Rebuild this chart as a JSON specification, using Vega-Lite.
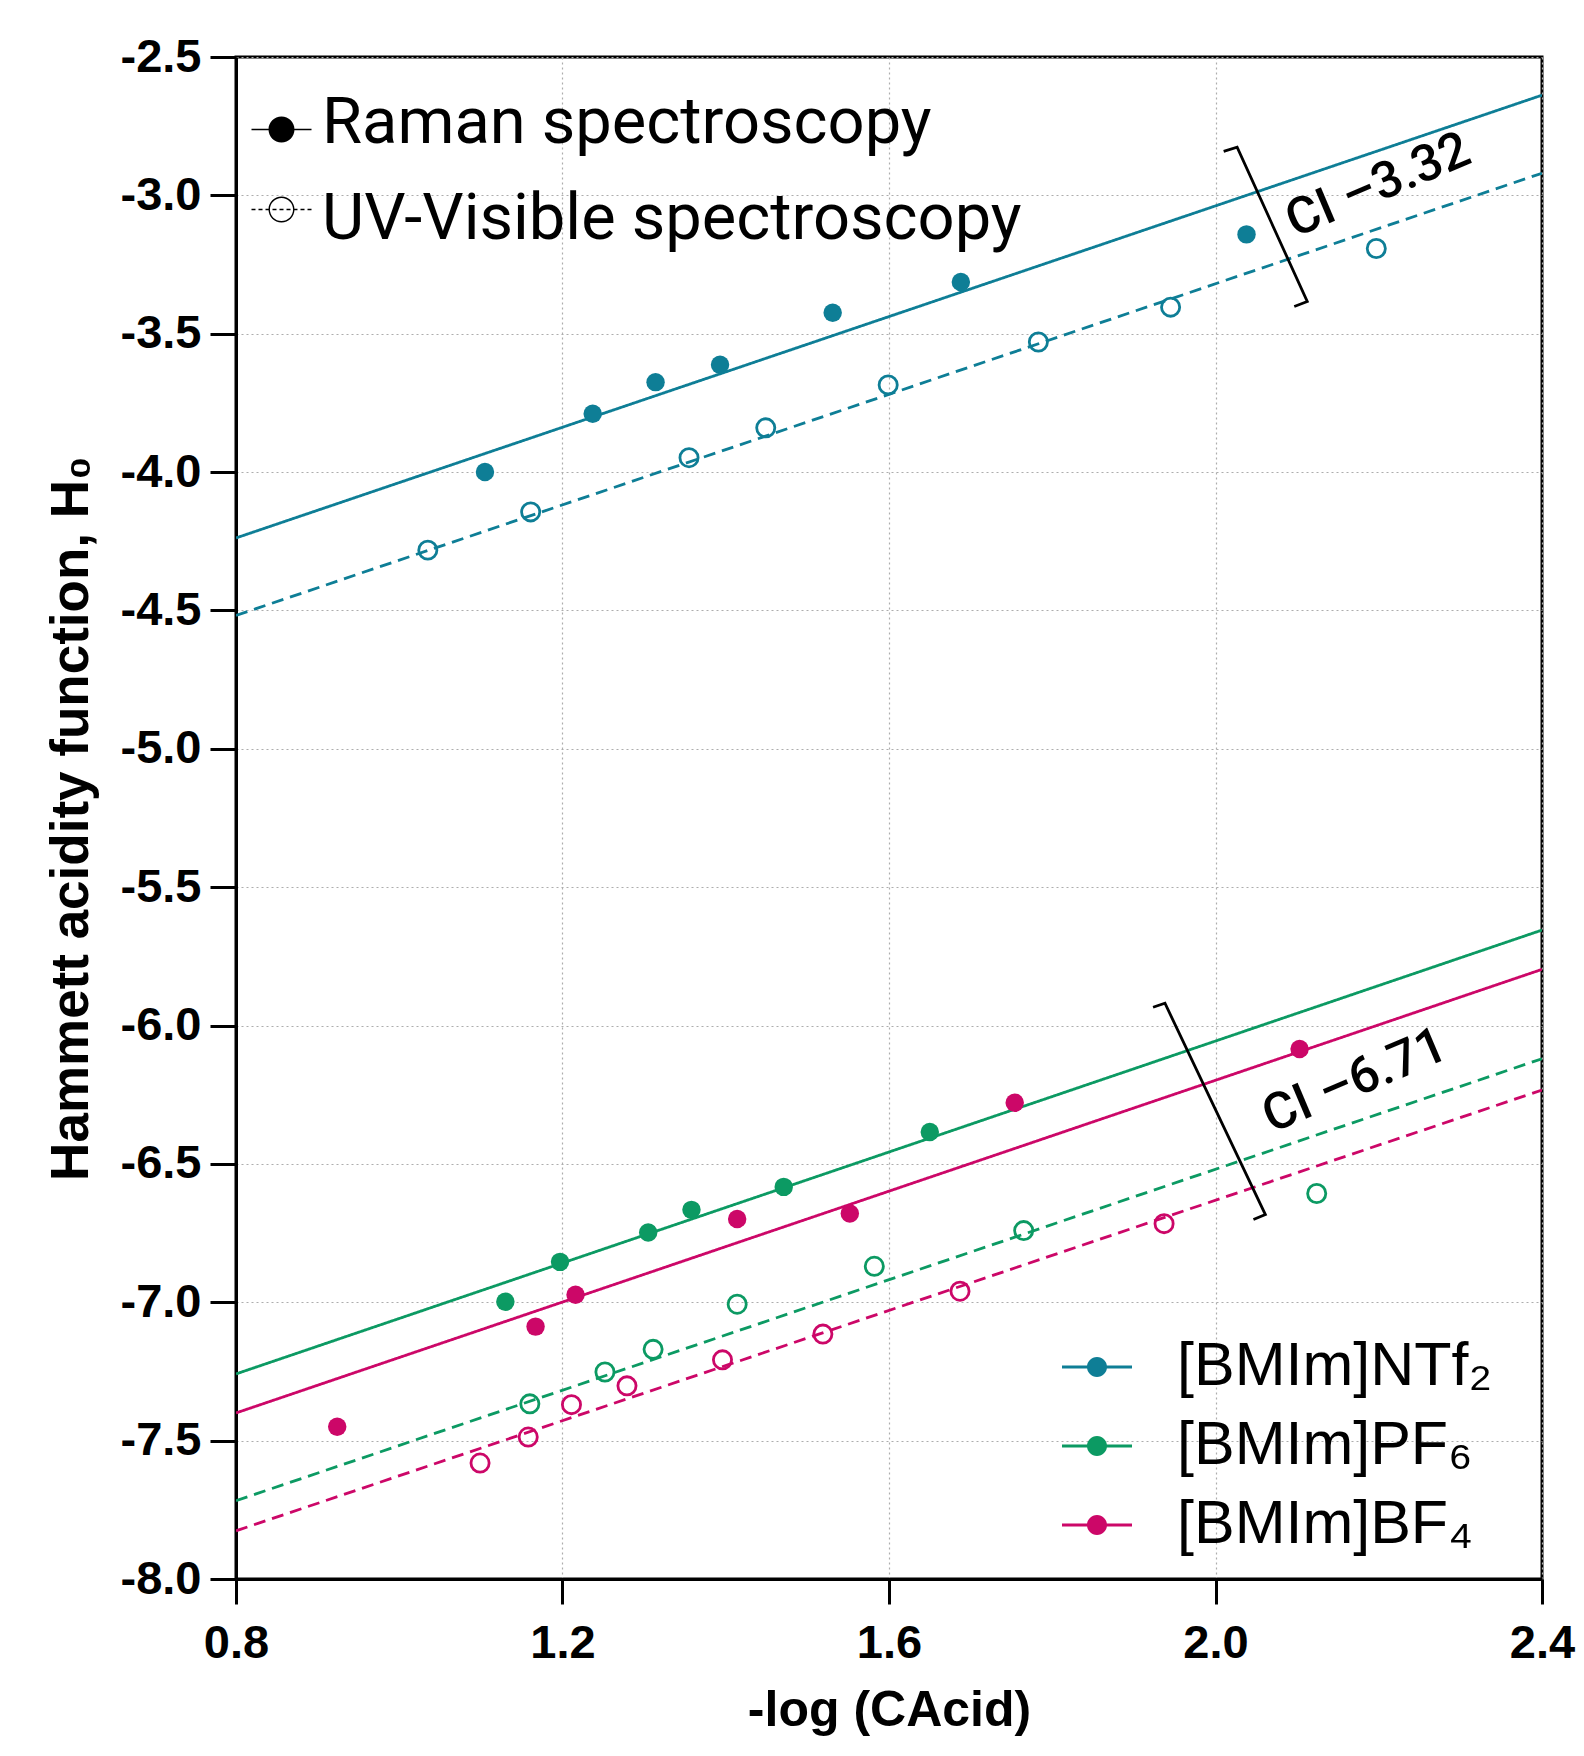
{
  "$schema": "https://vega.github.io/schema/vega-lite/v6.json",
  "width": 1306,
  "height": 1522,
  "autosize": {"type": "none"},
  "padding": {"left": 236, "top": 57, "right": 42, "bottom": 177},
  "background": "white",
  "config": {
    "view": {"stroke": "black", "strokeWidth": 3},
    "axis": {
      "domainColor": "black", "domainWidth": 3,
      "tickColor": "black", "tickWidth": 3,
      "labelFont": "Liberation Sans", "labelFontWeight": "bold", "labelFontSize": 47, "labelColor": "black", "labelFlush": false,
      "titleFont": "Liberation Sans", "titleFontWeight": "bold", "titleColor": "black",
      "grid": true, "gridColor": "#adadad", "gridDash": [2, 3], "gridWidth": 1.2
    }
  },
  "datasets": {
    "points": [
      {"series": "[BMIm]NTf₂", "method": "Raman spectroscopy", "x": 1.105, "y": -4.000},
      {"series": "[BMIm]NTf₂", "method": "Raman spectroscopy", "x": 1.237, "y": -3.789},
      {"series": "[BMIm]NTf₂", "method": "Raman spectroscopy", "x": 1.314, "y": -3.675},
      {"series": "[BMIm]NTf₂", "method": "Raman spectroscopy", "x": 1.393, "y": -3.612},
      {"series": "[BMIm]NTf₂", "method": "Raman spectroscopy", "x": 1.531, "y": -3.424},
      {"series": "[BMIm]NTf₂", "method": "Raman spectroscopy", "x": 1.688, "y": -3.313},
      {"series": "[BMIm]NTf₂", "method": "Raman spectroscopy", "x": 2.038, "y": -3.141},
      {"series": "[BMIm]NTf₂", "method": "UV-Visible spectroscopy", "x": 1.035, "y": -4.282},
      {"series": "[BMIm]NTf₂", "method": "UV-Visible spectroscopy", "x": 1.161, "y": -4.144},
      {"series": "[BMIm]NTf₂", "method": "UV-Visible spectroscopy", "x": 1.355, "y": -3.948},
      {"series": "[BMIm]NTf₂", "method": "UV-Visible spectroscopy", "x": 1.449, "y": -3.840},
      {"series": "[BMIm]NTf₂", "method": "UV-Visible spectroscopy", "x": 1.599, "y": -3.685},
      {"series": "[BMIm]NTf₂", "method": "UV-Visible spectroscopy", "x": 1.783, "y": -3.530},
      {"series": "[BMIm]NTf₂", "method": "UV-Visible spectroscopy", "x": 1.945, "y": -3.404},
      {"series": "[BMIm]NTf₂", "method": "UV-Visible spectroscopy", "x": 2.197, "y": -3.192},
      {"series": "[BMIm]PF₆", "method": "Raman spectroscopy", "x": 1.130, "y": -6.998},
      {"series": "[BMIm]PF₆", "method": "Raman spectroscopy", "x": 1.197, "y": -6.854},
      {"series": "[BMIm]PF₆", "method": "Raman spectroscopy", "x": 1.305, "y": -6.748},
      {"series": "[BMIm]PF₆", "method": "Raman spectroscopy", "x": 1.358, "y": -6.666},
      {"series": "[BMIm]PF₆", "method": "Raman spectroscopy", "x": 1.471, "y": -6.583},
      {"series": "[BMIm]PF₆", "method": "Raman spectroscopy", "x": 1.650, "y": -6.385},
      {"series": "[BMIm]PF₆", "method": "UV-Visible spectroscopy", "x": 1.160, "y": -7.367},
      {"series": "[BMIm]PF₆", "method": "UV-Visible spectroscopy", "x": 1.252, "y": -7.252},
      {"series": "[BMIm]PF₆", "method": "UV-Visible spectroscopy", "x": 1.311, "y": -7.170},
      {"series": "[BMIm]PF₆", "method": "UV-Visible spectroscopy", "x": 1.414, "y": -7.007},
      {"series": "[BMIm]PF₆", "method": "UV-Visible spectroscopy", "x": 1.582, "y": -6.870},
      {"series": "[BMIm]PF₆", "method": "UV-Visible spectroscopy", "x": 1.765, "y": -6.741},
      {"series": "[BMIm]PF₆", "method": "UV-Visible spectroscopy", "x": 2.124, "y": -6.607},
      {"series": "[BMIm]BF₄", "method": "Raman spectroscopy", "x": 0.924, "y": -7.450},
      {"series": "[BMIm]BF₄", "method": "Raman spectroscopy", "x": 1.167, "y": -7.088},
      {"series": "[BMIm]BF₄", "method": "Raman spectroscopy", "x": 1.216, "y": -6.973},
      {"series": "[BMIm]BF₄", "method": "Raman spectroscopy", "x": 1.414, "y": -6.699},
      {"series": "[BMIm]BF₄", "method": "Raman spectroscopy", "x": 1.552, "y": -6.679},
      {"series": "[BMIm]BF₄", "method": "Raman spectroscopy", "x": 1.754, "y": -6.279},
      {"series": "[BMIm]BF₄", "method": "Raman spectroscopy", "x": 2.103, "y": -6.085},
      {"series": "[BMIm]BF₄", "method": "UV-Visible spectroscopy", "x": 1.099, "y": -7.581},
      {"series": "[BMIm]BF₄", "method": "UV-Visible spectroscopy", "x": 1.158, "y": -7.487},
      {"series": "[BMIm]BF₄", "method": "UV-Visible spectroscopy", "x": 1.211, "y": -7.370},
      {"series": "[BMIm]BF₄", "method": "UV-Visible spectroscopy", "x": 1.279, "y": -7.302},
      {"series": "[BMIm]BF₄", "method": "UV-Visible spectroscopy", "x": 1.396, "y": -7.208},
      {"series": "[BMIm]BF₄", "method": "UV-Visible spectroscopy", "x": 1.519, "y": -7.115},
      {"series": "[BMIm]BF₄", "method": "UV-Visible spectroscopy", "x": 1.687, "y": -6.960},
      {"series": "[BMIm]BF₄", "method": "UV-Visible spectroscopy", "x": 1.937, "y": -6.716}
    ],
    "fits": [
      {"series": "[BMIm]NTf₂", "method": "Raman spectroscopy", "x": 0.8, "y": -4.238},
      {"series": "[BMIm]NTf₂", "method": "Raman spectroscopy", "x": 2.4, "y": -2.638},
      {"series": "[BMIm]NTf₂", "method": "UV-Visible spectroscopy", "x": 0.8, "y": -4.518},
      {"series": "[BMIm]NTf₂", "method": "UV-Visible spectroscopy", "x": 2.4, "y": -2.920},
      {"series": "[BMIm]PF₆", "method": "Raman spectroscopy", "x": 0.8, "y": -7.259},
      {"series": "[BMIm]PF₆", "method": "Raman spectroscopy", "x": 2.4, "y": -5.655},
      {"series": "[BMIm]PF₆", "method": "UV-Visible spectroscopy", "x": 0.8, "y": -7.717},
      {"series": "[BMIm]PF₆", "method": "UV-Visible spectroscopy", "x": 2.4, "y": -6.120},
      {"series": "[BMIm]BF₄", "method": "Raman spectroscopy", "x": 0.8, "y": -7.400},
      {"series": "[BMIm]BF₄", "method": "Raman spectroscopy", "x": 2.4, "y": -5.797},
      {"series": "[BMIm]BF₄", "method": "UV-Visible spectroscopy", "x": 0.8, "y": -7.826},
      {"series": "[BMIm]BF₄", "method": "UV-Visible spectroscopy", "x": 2.4, "y": -6.233}
    ],
    "brackets": [
      {"group": "NTf2", "order": 0, "x": 2.010, "y": -2.841},
      {"group": "NTf2", "order": 1, "x": 2.0265, "y": -2.826},
      {"group": "NTf2", "order": 2, "x": 2.1124, "y": -3.3837},
      {"group": "NTf2", "order": 3, "x": 2.0965, "y": -3.4014},
      {"group": "PF6BF4", "order": 0, "x": 1.9235, "y": -5.934},
      {"group": "PF6BF4", "order": 1, "x": 1.9381, "y": -5.9195},
      {"group": "PF6BF4", "order": 2, "x": 2.0611, "y": -6.6832},
      {"group": "PF6BF4", "order": 3, "x": 2.0465, "y": -6.7009}
    ],
    "notes": [
      {"label": "CI –3.32", "x": 2.1995, "y": -2.966},
      {"label": "CI –6.71", "x": 2.171, "y": -6.202}
    ]
  },
  "layer": [
    {
      "data": {"name": "fits"},
      "mark": {"type": "line", "strokeWidth": 2.8, "clip": true},
      "encoding": {
        "x": {"field": "x", "type": "quantitative", "scale": {"domain": [0.8, 2.4], "nice": false, "zero": false},
          "axis": {"values": [0.8, 1.2, 1.6, 2.0, 2.4], "format": ".1f", "tickSize": 25, "labelPadding": 16, "title": "-log (CAcid)", "titleFontSize": 50, "titlePadding": 19}},
        "y": {"field": "y", "type": "quantitative", "scale": {"domain": [-8, -2.5], "nice": false, "zero": false},
          "axis": {"values": [-8, -7.5, -7, -6.5, -6, -5.5, -5, -4.5, -4, -3.5, -3, -2.5], "labelExpr": "replace(format(datum.value, '.1f'), '\u2212', '-')", "tickSize": 26, "labelPadding": 9, "title": "Hammett acidity function, H₀", "titleFontSize": 53, "titlePadding": 22}},
        "color": {"field": "series", "type": "nominal",
          "scale": {"domain": ["[BMIm]NTf₂", "[BMIm]PF₆", "[BMIm]BF₄"], "range": ["#0E7E96", "#0C9A63", "#CC0768"]},
          "legend": {
            "orient": "none", "legendX": 826, "legendY": 1275, "title": null, "padding": 0,
            "symbolType": "M-1,-0.043H1V0.043H-1Z M0.286,0A0.286,0.286,0,1,1,-0.286,0A0.286,0.286,0,1,1,0.286,0Z",
            "symbolSize": 4900, "labelFont": "Liberation Sans", "labelFontSize": 61, "labelColor": "black", "labelOffset": 45, "rowPadding": 14, "labelLimit": 600,
            "encode": {"symbols": {"update": {
              "shape": {"value": "M-1,-0.043H1V0.043H-1Z M0.286,0A0.286,0.286,0,1,1,-0.286,0A0.286,0.286,0,1,1,0.286,0Z"},
              "fill": {"signal": "scale('color', datum.value)"},
              "stroke": {"value": "transparent"}, "strokeWidth": {"value": 0}, "opacity": {"value": 1}}}}
          }},
        "strokeDash": {"field": "method", "type": "nominal",
          "scale": {"domain": ["Raman spectroscopy", "UV-Visible spectroscopy"], "range": [[1, 0], [12, 7]]},
          "legend": {
            "orient": "none", "legendX": 13, "legendY": 40, "title": null, "padding": 0,
            "symbolSize": 3600, "labelFont": "Roboto", "labelFontSize": 65, "labelColor": "black", "labelOffset": 8, "rowPadding": 21, "labelLimit": 900,
            "encode": {
              "labels": {"update": {"dy": {"signal": "datum.value === 'Raman spectroscopy' ? -7 : 9"}}},
              "symbols": {"update": {
              "shape": {"signal": "datum.value === 'Raman spectroscopy' ? 'M-1,-0.022H1V0.022H-1Z M0.433,0A0.433,0.433,0,1,1,-0.433,0A0.433,0.433,0,1,1,0.433,0Z' : 'M-1,-0.025H-0.867V0.025H-1Z M-0.767,-0.025H-0.633V0.025H-0.767Z M-0.533,-0.025H-0.4V0.025H-0.533Z M-0.3,-0.025H-0.167V0.025H-0.3Z M-0.067,-0.025H0.067V0.025H-0.067Z M0.167,-0.025H0.3V0.025H0.167Z M0.4,-0.025H0.533V0.025H0.4Z M0.633,-0.025H0.767V0.025H0.633Z M0.867,-0.025H1V0.025H0.867Z M0.433,0A0.433,0.433,0,1,1,-0.433,0A0.433,0.433,0,1,1,0.433,0Z M0.386,0A0.386,0.386,0,1,0,-0.386,0A0.386,0.386,0,1,0,0.386,0Z'"},
              "fill": {"value": "black"},
              "stroke": {"value": "transparent"}, "strokeWidth": {"value": 0}, "strokeDash": {"value": [1, 0]}, "opacity": {"value": 1}}}}
          }}
      }
    },
    {
      "data": {"name": "points"},
      "transform": [{"filter": "datum.method === 'Raman spectroscopy'"}],
      "mark": {"type": "point", "shape": "circle", "filled": true, "size": 340, "opacity": 1},
      "encoding": {
        "x": {"field": "x", "type": "quantitative"},
        "y": {"field": "y", "type": "quantitative"},
        "color": {"field": "series", "type": "nominal"}
      }
    },
    {
      "data": {"name": "points"},
      "transform": [{"filter": "datum.method === 'UV-Visible spectroscopy'"}],
      "mark": {"type": "point", "shape": "circle", "filled": false, "size": 330, "strokeWidth": 2.8, "opacity": 1},
      "encoding": {
        "x": {"field": "x", "type": "quantitative"},
        "y": {"field": "y", "type": "quantitative"},
        "color": {"field": "series", "type": "nominal"}
      }
    },
    {
      "data": {"name": "brackets"},
      "mark": {"type": "line", "color": "black", "strokeWidth": 2.8},
      "encoding": {
        "x": {"field": "x", "type": "quantitative"},
        "y": {"field": "y", "type": "quantitative"},
        "detail": {"field": "group", "type": "nominal"},
        "order": {"field": "order", "type": "quantitative"}
      }
    },
    {
      "data": {"name": "notes"},
      "mark": {"type": "text", "font": "Roboto", "fontSize": 51, "fontWeight": 500, "angle": -23, "align": "center", "baseline": "middle", "color": "black"},
      "encoding": {
        "x": {"field": "x", "type": "quantitative"},
        "y": {"field": "y", "type": "quantitative"},
        "text": {"field": "label", "type": "nominal"}
      }
    }
  ]
}
